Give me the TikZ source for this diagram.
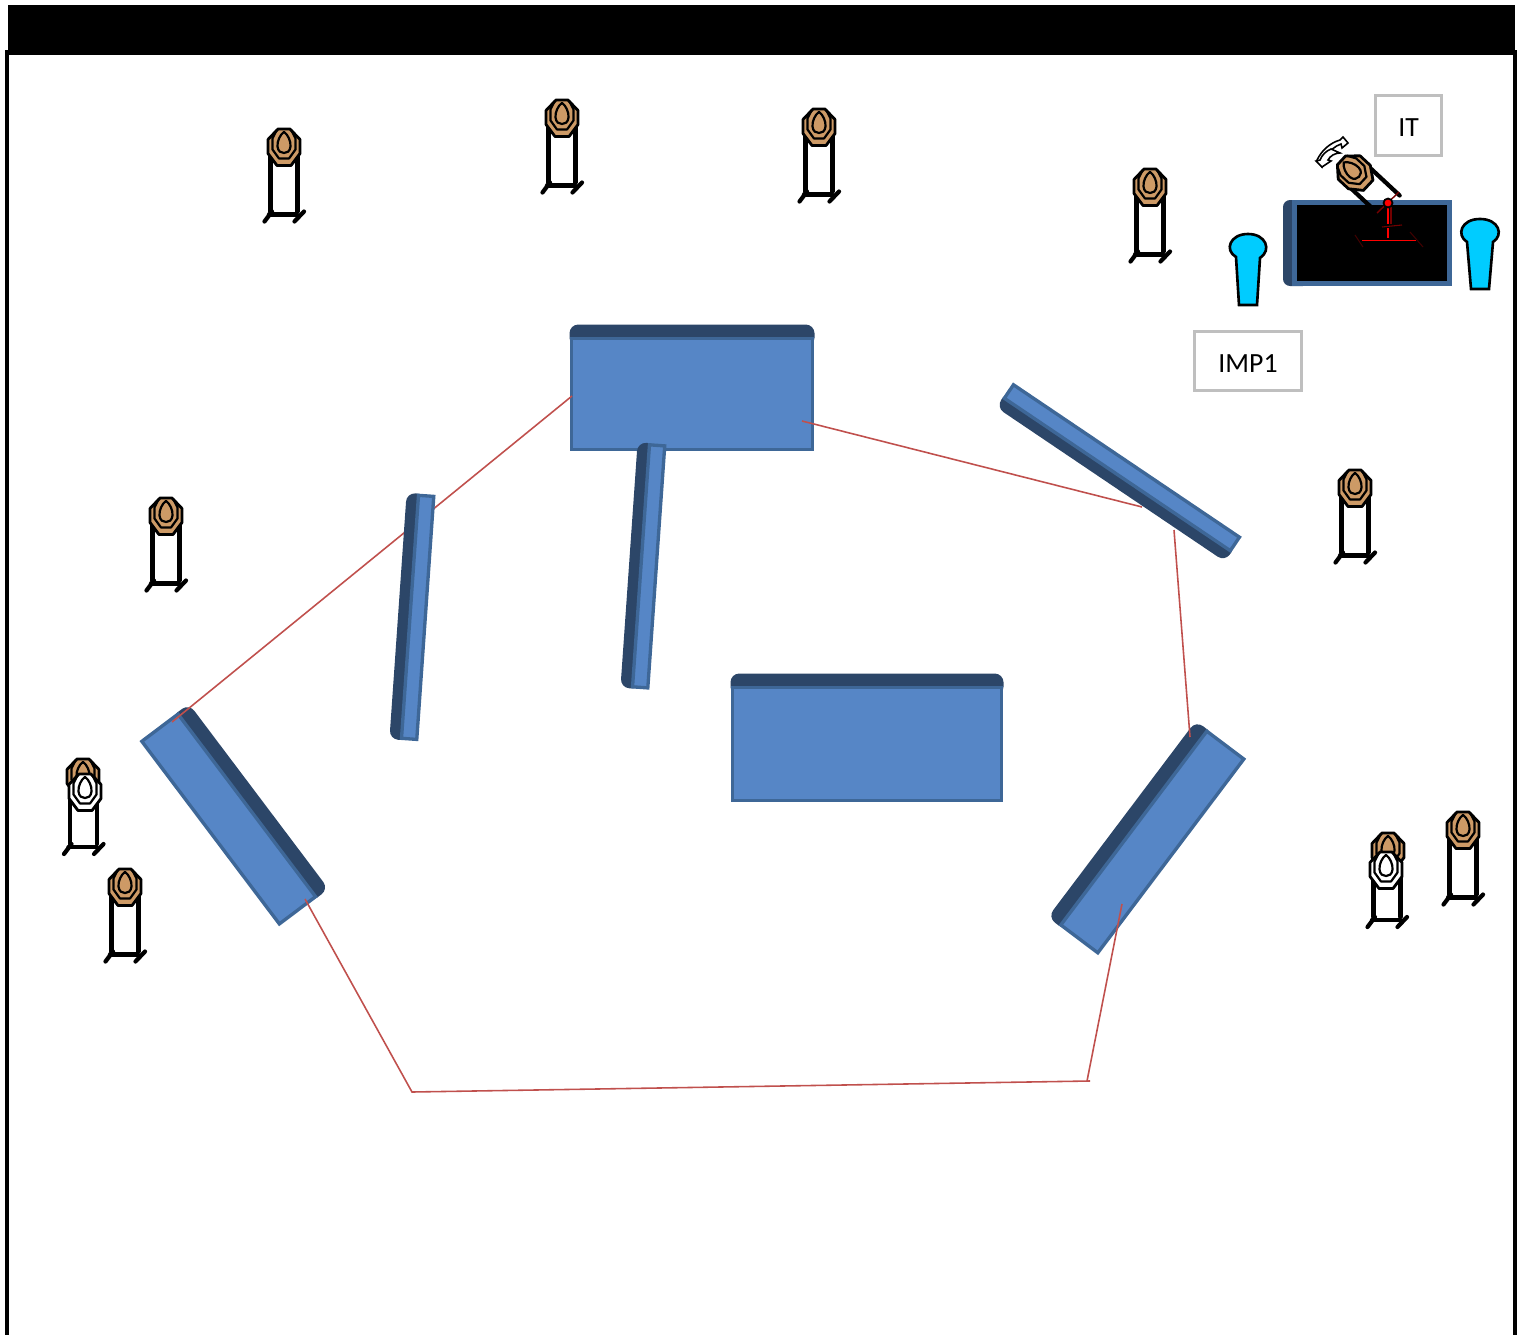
\documentclass[tikz,border=0pt]{standalone}
\usepackage{fontspec}
\setmainfont{Carlito}
\definecolor{wallface}{HTML}{5686C6}
\definecolor{wallline}{HTML}{3E6797}
\definecolor{walldark}{HTML}{2C4668}
\definecolor{headbrown}{HTML}{CD9A66}
\definecolor{keyblue}{HTML}{00CCFF}
\definecolor{pathred}{HTML}{C0504D}
\definecolor{boxgray}{HTML}{BFBFBF}
\tikzset{
  facestyle/.style={fill=wallface,draw=wallline,line width=1.9pt,line join=miter},
  bandstyle/.style={fill=walldark,draw=none,rounded corners=5pt},
  legstyle/.style={draw=black,line width=2.4pt,line cap=round},
  headstyle/.style={draw=black,line width=1.6pt,line join=round},
  ringstyle/.style={draw=black,line width=1.25pt,line join=round},
  keystyle/.style={fill=keyblue,draw=black,line width=1.5pt},
  routestyle/.style={draw=pathred,line width=0.9pt},
  labelbox/.style={draw=boxgray,line width=1.25pt,fill=white,font=\fontsize{15.8}{18}\selectfont,text=black,inner sep=0pt,anchor=center},
  redmark/.style={draw=red,line width=1pt},
  dimmark/.style={draw=red!45!black,line width=0.6pt},
  swapstyle/.style={fill=white,draw=black,line width=0.9pt,line join=miter},
}
% centre x, centre y, rotation, length, width, band depth
\newcommand{\wallpanel}[6]{%
  \begin{scope}[shift={(#1,#2)},rotate=#3]
    \pgfmathsetmacro\hl{#4/2}\pgfmathsetmacro\hw{#5/2}\pgfmathsetmacro\bd{-\hw+#6}
    \pgfmathsetmacro\il{\hl-1.7}\pgfmathsetmacro\iw{\hw-1.7}
    \fill[bandstyle] (-\hl,\bd+8) -- (-\hl,-\hw) -- (\hl,-\hw) -- (\hl,\bd+8) -- cycle;
    \path[facestyle] (-\il,\bd) rectangle (\il,\iw);
  \end{scope}}
% head only: x, y, rotation, fill
\newcommand{\targethead}[4]{%
  \begin{scope}[shift={(#1,#2)},rotate=#3]
    \path[headstyle,fill=#4] (-6,-18.5) -- (6,-18.5) -- (16,-8) -- (16,6) -- (7,18) -- (-7,18) -- (-16,6) -- (-16,-8) -- cycle;
    \draw[ringstyle] (-7,-18) -- (-11.5,-9) -- (-11.5,2) -- (-5,11) -- (5,11) -- (11.5,2) -- (11.5,-9) -- (7,-18);
    \draw[ringstyle] (0,-15.5) .. controls (-4,-13) and (-7,-6) .. (-6.5,-1) .. controls (-6,4) and (-3,5.5) .. (0,5.5) .. controls (3,5.5) and (6,4) .. (6.5,-1) .. controls (7,-6) and (4,-13) .. (0,-15.5) -- cycle;
  \end{scope}}
% stand under a head: x, y of head, drop to base bar
\newcommand{\targetstand}[3]{%
  \begin{scope}[shift={(#1,#2)}]
    \draw[legstyle] (-13.5,0) -- (-13.5,#3-3);
    \draw[legstyle] (13.5,0) -- (13.5,#3-3);
    \draw[legstyle] (-15,#3) -- (13,#3);
    \draw[legstyle] (-19.5,#3+7) -- (-12,#3-3);
    \draw[legstyle] (10.5,#3+7) -- (20,#3-3);
  \end{scope}}
\newcommand{\fulltarget}[2]{\targetstand{#1}{#2}{67}\targethead{#1}{#2}{0}{headbrown}}
\begin{document}
\begin{tikzpicture}[x=0.02cm,y=-0.02cm]
\useasboundingbox (0,0) rectangle (1521,1335);
% frame
\fill[black] (8,5) rectangle (1515,55);
\fill[black] (5,50) rectangle (9,1335);
\fill[black] (1513,50) rectangle (1517,1335);
% walls under the route
\wallpanel{234}{815}{-53}{232}{62}{15}
\wallpanel{692}{388}{0}{245}{127}{14}
\wallpanel{867}{738}{0}{273}{129}{14}
\wallpanel{1147}{838}{53}{246}{63}{15}
% route
\coordinate (r1) at (572,396);
\coordinate (r2) at (172,722);
\coordinate (r3) at (802,421);
\coordinate (r4) at (1142,507);
\coordinate (r5) at (1174,530);
\coordinate (r6) at (1190,737);
\coordinate (r7) at (1122,904);
\coordinate (r8) at (1087,1081);
\coordinate (r9) at (1090,1081);
\coordinate (r10) at (412,1092);
\coordinate (r11) at (305,899);
\path[routestyle] (r1) -- (r2);
\path[routestyle] (r3) -- (r4);
\path[routestyle] (r5) -- (r6);
\path[routestyle] (r7) -- (r8);
\path[routestyle] (r9) -- (r10) -- (r11);
% thin walls
\wallpanel{412.5}{617}{86}{247}{29}{12}
\wallpanel{643.5}{566}{86}{246}{29}{12}
\wallpanel{1119}{472}{146}{276}{30}{12}
% instructor table
\fill[walldark,rounded corners=4pt] (1283,200) rectangle (1310,286);
\path[draw=wallline,fill=black,line width=2.8pt] (1294.5,202.5) rectangle (1449.5,283.5);
% rotated target
\begin{scope}[shift={(1355,173)},rotate=47]
  \draw[legstyle] (-14,0) -- (-14,44);
  \draw[legstyle] (14,0) -- (14,48);
\end{scope}
\targethead{1355}{173}{47}{headbrown}
\draw[dimmark,line width=0.8pt] (1399,192) -- (1377,213);
\draw[redmark,line width=0.6pt] (1388,203) -- (1388,224);
\draw[dimmark] (1391,203) -- (1391,224);
\draw[dimmark] (1382,227) -- (1402,225);
\draw[redmark,line width=0.6pt] (1388,228) -- (1388,238);
\draw[redmark] (1362,240.5) -- (1416,240.5);
\draw[dimmark,draw=red!25!black] (1355,235) -- (1363,247);
\draw[dimmark,draw=red!25!black] (1410,232) -- (1423,247);
\path[fill=red,draw=black,line width=1pt] (1388,203) circle (4.5);
% swap arrows
\path[swapstyle] (1317,160) .. controls (1322,150) and (1330,143) .. (1340,140) -- (1343,137) -- (1348,143) -- (1342,148) -- (1341,144) .. controls (1335,146) and (1329,151) .. (1325,158) -- (1322,167) -- cycle;
\path[swapstyle] (1340,153) .. controls (1335,153) and (1330,156) .. (1328,160) -- (1331,161) -- (1322,167) -- (1316,161) -- (1320,160) .. controls (1322,155) and (1326,151) .. (1331,149) -- cycle;
% spectators
\path[keystyle] (1236,257) .. controls (1224,250) and (1230,234) .. (1248,234) .. controls (1266,234) and (1272,250) .. (1260,258) -- (1257,305) -- (1239,305) -- cycle;
\path[keystyle] (1467,242) .. controls (1456,235) and (1461,219) .. (1480,219) .. controls (1499,219) and (1504,235) .. (1493,242) -- (1489,289) -- (1471,289) -- cycle;
% targets
\fulltarget{284}{147.5}
\fulltarget{562}{118.5}
\fulltarget{819}{127.5}
\fulltarget{1150}{187.5}
\fulltarget{1355}{488.5}
\fulltarget{166}{516.5}
\fulltarget{125}{887.5}
\fulltarget{1463}{830.5}
% no-shoot in front of paper targets
\targethead{83}{777.5}{0}{headbrown}
\targetstand{83.5}{792.5}{54.5}
\targethead{85}{792.5}{0}{white}
\targethead{1388}{851.5}{0}{headbrown}
\targetstand{1387}{870.5}{49.5}
\targethead{1386}{870.5}{0}{white}
% labels
\node[labelbox,minimum width=1.32cm,minimum height=1.2cm] (it) at (1408.5,125.5) {\raisebox{-1.2pt}[\height][0pt]{IT}};
\node[labelbox,minimum width=2.14cm,minimum height=1.18cm] (imp) at (1248,361) {\raisebox{-1.2pt}[\height][0pt]{IMP1}};
\end{tikzpicture}
\end{document}
